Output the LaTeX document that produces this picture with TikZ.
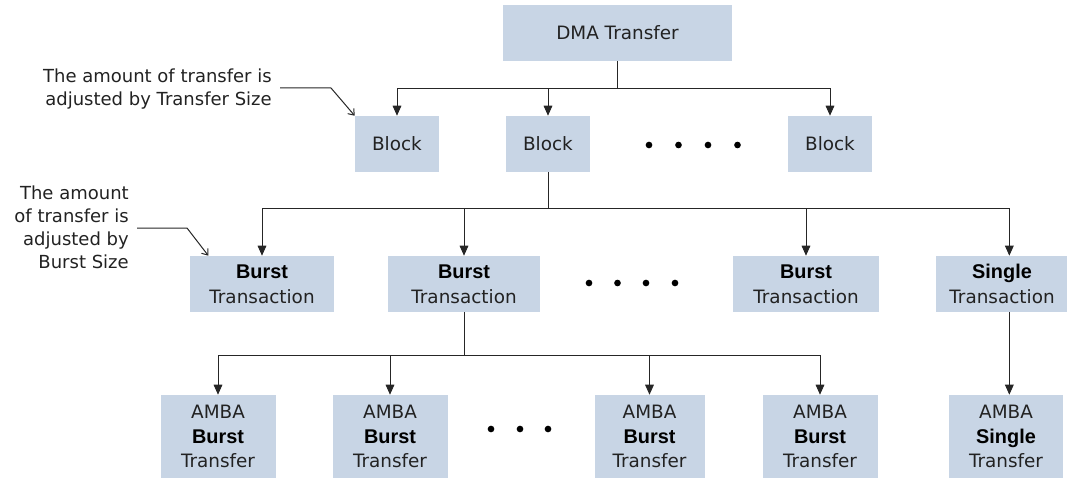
\documentclass[tikz,border=0pt]{standalone}
\usepackage{fontspec}
\setmainfont{DejaVu Sans}
\newfontfamily\boldf[Scale=1.08]{Liberation Sans Bold}
\usetikzlibrary{arrows.meta}
\definecolor{boxfill}{HTML}{C8D5E5}
\definecolor{txt}{HTML}{222222}
\tikzset{
  box/.style={draw=none, fill=boxfill, text=txt, align=center, inner sep=0pt,
    font=\fontsize{13.8pt}{18.5pt}\selectfont},
  bw/.style={minimum width=#1*0.75pt},
  bh/.style={minimum height=#1*0.75pt},
  arr/.style={draw=black!85, line width=0.75pt, -{Triangle[width=6.5pt,length=7.5pt]}},
  ln/.style={draw=black!85, line width=0.75pt},
  note/.style={text=txt, align=right, inner sep=0pt, font=\fontsize{13.5pt}{17.3pt}\selectfont},
  notearr/.style={draw=black!85, line width=0.75pt, -{Straight Barb[length=4pt,width=6pt]}},
  dot/.style={circle, fill=black, inner sep=0pt, minimum size=5pt},
  bt/.style={text=black}
}
\newcommand{\bb}[1]{{\boldf\color{black}#1}}
\begin{document}
\begin{tikzpicture}[x=0.75pt,y=-0.75pt]
\useasboundingbox (0,0) rectangle (1067,481);
% top
\node[box, bw=229, bh=56] (dma) at (617.5,33) {DMA Transfer};
% blocks
\node[box, bw=84, bh=56] (b1) at (397,144) {Block};
\node[box, bw=84, bh=56] (b2) at (548,144) {Block};
\node[box, bw=84, bh=56] (b3) at (830,144) {Block};
\node[dot] (d11) at (649,145) {};
\node[dot] (d12) at (678.5,145) {};
\node[dot] (d13) at (708,145) {};
\node[dot] (d14) at (737.5,145) {};
% transactions
\node[box, bw=144, bh=56] (t1) at (262,284) {\bb{Burst}\\Transaction};
\node[box, bw=152, bh=56] (t2) at (464,284) {\bb{Burst}\\Transaction};
\node[box, bw=146, bh=56] (t3) at (806,284) {\bb{Burst}\\Transaction};
\node[box, bw=132, bh=56] (t4) at (1002,284) {\bb{Single}\\Transaction};
\node[dot] (d21) at (589,283) {};
\node[dot] (d22) at (617.5,283) {};
\node[dot] (d23) at (646,283) {};
\node[dot] (d24) at (675,283) {};
% amba
\node[box, bw=115, bh=83] (a1) at (218,436.5) {AMBA\\\bb{Burst}\\Transfer};
\node[box, bw=115, bh=83] (a2) at (390,436.5) {AMBA\\\bb{Burst}\\Transfer};
\node[box, bw=110, bh=83] (a3) at (649.5,436.5) {AMBA\\\bb{Burst}\\Transfer};
\node[box, bw=115, bh=83] (a4) at (820,436.5) {AMBA\\\bb{Burst}\\Transfer};
\node[box, bw=114, bh=83] (a5) at (1006,436.5) {AMBA\\\bb{Single}\\Transfer};
\node[dot] (d31) at (491,429) {};
\node[dot] (d32) at (520,429) {};
\node[dot] (d33) at (548,429) {};
% connectors top
\draw[ln] (dma.south) -- ++(0,27) coordinate (bus0);
\draw[arr] (bus0) -| (b1.north);
\draw[arr] (bus0) -| (b2.north);
\draw[arr] (bus0) -| (b3.north);
% connectors mid
\draw[ln] (b2.south) -- ++(0,36) coordinate (bus1);
\draw[arr] (bus1) -| (t1.north);
\draw[arr] (bus1) -| (t2.north);
\draw[arr] (bus1) -| (t3.north);
\draw[arr] (bus1) -| ([xshift=5.5pt]t4.north);
% connectors bottom
\draw[ln] (t2.south) -- ++(0,43) coordinate (bus2);
\draw[arr] (bus2) -| (a1.north);
\draw[arr] (bus2) -| (a2.north);
\draw[arr] (bus2) -| (a3.north);
\draw[arr] (bus2) -| (a4.north);
\draw[arr] ([xshift=5.5pt]t4.south) -- ([xshift=5.5pt]t4.south |- a5.north);
% notes
\node[note, anchor=east] (n1) at (272,89) {The amount of transfer is\\adjusted by Transfer Size};
\coordinate (n1a) at (280,88);
\coordinate (n1b) at (331,88);
\draw[notearr] (n1a) -- (n1b) -- (b1.north west);
\node[note, anchor=east] (n2) at (129,227) {The amount\\of transfer is\\adjusted by\\Burst Size};
\coordinate (n2a) at (137,228);
\coordinate (n2b) at (187,228);
\draw[notearr] (n2a) -- (n2b) -- ([xshift=14pt]t1.north west);
\end{tikzpicture}
\end{document}
